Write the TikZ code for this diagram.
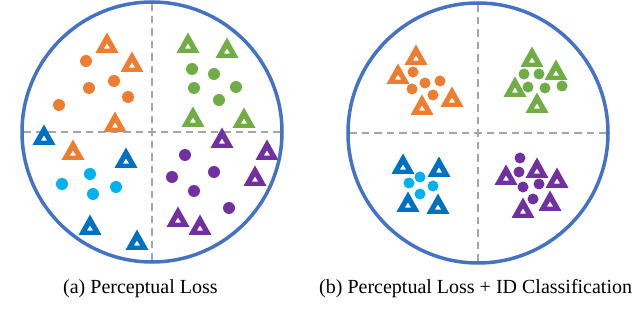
\documentclass[tikz,border=0pt]{standalone}
\usepackage{fontspec}
\setmainfont{Liberation Serif}
\usetikzlibrary{positioning}
\definecolor{ringBlue}{HTML}{4472C4}
\definecolor{divGrey}{HTML}{A6A6A6}
\definecolor{ptOrange}{HTML}{ED7D31}
\definecolor{ptGreen}{HTML}{70AD47}
\definecolor{ptBlue}{HTML}{0070C0}
\definecolor{ptCyan}{HTML}{00B0F0}
\definecolor{ptPurple}{HTML}{7030A0}
\tikzset{
  ring/.style     = {ringBlue, line width=3.5pt},
  divider/.style  = {divGrey, line width=2.5pt, dash pattern=on 7.5pt off 5pt, dash phase=3.75pt},
  tri/.pic        = {\fill[even odd rule] (-11.5,10) -- (11.5,10) -- (0,-10.5) -- cycle
                       (-3.2,5.6) -- (3.2,5.6) -- (0,0.4) -- cycle;},
  caplbl/.style   = {font=\fontsize{20}{24}\selectfont, inner sep=0pt, anchor=base west},
}
\begin{document}
\begin{tikzpicture}[x=1pt, y=-1pt]
  \useasboundingbox (0,0) rectangle (640,315);
  \coordinate (cA) at (152,132);
  \coordinate (cB) at (478,133);
  % quadrant dividers, dashed out from each centre
  \foreach \c in {cA,cB} {
    \foreach \dx/\dy in {130/0,-130/0,0/130,0/-130}
      \draw[divider] (\c) -- ++(\dx,\dy);
  }
  % (a) perceptual loss: loose clusters
  \foreach \x/\y in {107/43,132/62,115/122,73/150}
    \pic[ptOrange] at (\x,\y) {tri};
  \foreach \x/\y in {86/61,114/81,89/88,128/97,59/105}
    \fill[ptOrange] (\x,\y) circle (6);
  \foreach \x/\y in {188/43,227/48,193/117,244/118}
    \pic[ptGreen] at (\x,\y) {tri};
  \foreach \x/\y in {192/69,214/74,194/88,236/87,219/100}
    \fill[ptGreen] (\x,\y) circle (6);
  \foreach \x/\y in {44/135,126/158,90/225,137/240}
    \pic[ptBlue] at (\x,\y) {tri};
  \foreach \x/\y in {90/174,62/184,93/194,116/187}
    \fill[ptCyan] (\x,\y) circle (6);
  \foreach \x/\y in {222/138,267/150,255/176,178/217,200/225}
    \pic[ptPurple] at (\x,\y) {tri};
  \foreach \x/\y in {185/155,214/172,172/177,194/191,229/208}
    \fill[ptPurple] (\x,\y) circle (6);
  % (b) with ID classification: tight clusters
  \foreach \x/\y in {416/55,398/74,452/97,422/105}
    \pic[ptOrange] at (\x,\y) {tri};
  \foreach \x/\y in {413/72,425/83,440/81,412/89,433/95}
    \fill[ptOrange] (\x,\y) circle (5.5);
  \foreach \x/\y in {532/57,556/70,515/87,537/103}
    \pic[ptGreen] at (\x,\y) {tri};
  \foreach \x/\y in {524/74,539/74,528/87,545/88,562/86}
    \fill[ptGreen] (\x,\y) circle (5.5);
  \foreach \x/\y in {403/164,439/167,408/202,438/204}
    \pic[ptBlue] at (\x,\y) {tri};
  \foreach \x/\y in {420/177,409/183,433/186,420/194}
    \fill[ptCyan] (\x,\y) circle (5.5);
  \foreach \x/\y in {506/175,537/168,557/178,523/208,550/201}
    \pic[ptPurple] at (\x,\y) {tri};
  \foreach \x/\y in {520/158,519/172,539/184,523/187,533/199}
    \fill[ptPurple] (\x,\y) circle (5.5);
  \draw[ring] (cA) circle (130);
  \draw[ring] (cB) circle (130);
  % captions
  \node[caplbl] (capA) at (63,294) {(a) Perceptual Loss};
  \node[caplbl] (capB) at (319,294) {(b) Perceptual Loss + ID Classification};
\end{tikzpicture}
\end{document}
